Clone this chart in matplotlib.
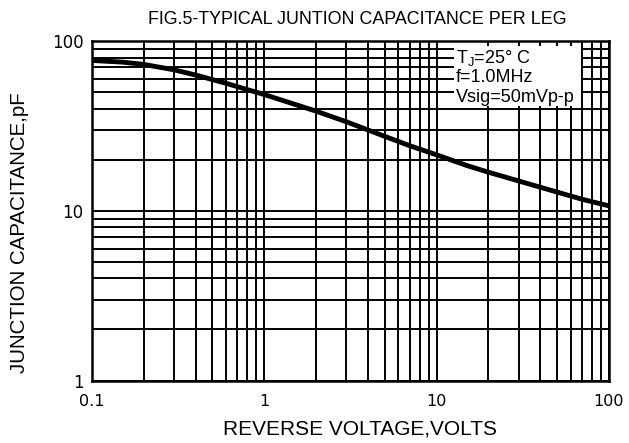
import matplotlib.pyplot as plt
from matplotlib.patches import Rectangle
from matplotlib.ticker import FixedLocator, NullFormatter

# curve
voltage = [0.1, 0.15, 0.2, 0.3, 0.4, 0.6, 0.8, 1, 1.5, 2, 3, 5, 7, 10, 15, 20, 30, 44, 70, 100]
capacitance = [77, 75.3, 73, 67.8, 63.2, 56.5, 51.8, 48.5, 42.5, 38.7, 33.5, 27.5, 24.2,
               21.4, 18.5, 16.9, 15, 13.4, 11.7, 10.7]

x_ticks = [0.1, 1, 10, 100]
x_labels = ["0.1", "1", "10", "100"]
y_ticks = [1, 10, 100]
y_labels = ["1", "10", "100"]

notes = ["T$_\\mathregular{J}$=25° C", "f=1.0MHz", "Vsig=50mVp-p"]

plt.rcParams["font.family"] = ["Liberation Sans", "DejaVu Sans"]

fig = plt.figure(figsize=(6.29, 4.43), dpi=100)
ax = fig.add_axes([0.146, 0.141, 0.822, 0.766])

ax.set_xscale("log")
ax.set_yscale("log")
ax.set_xlim(0.1, 100)
ax.set_ylim(1, 100)

minor_x = [m * 10.0 ** e for e in (-1, 0, 1) for m in range(2, 10)]
minor_y = [m * 10.0 ** e for e in (0, 1) for m in range(2, 10)]
ax.xaxis.set_major_locator(FixedLocator(x_ticks))
ax.yaxis.set_major_locator(FixedLocator(y_ticks))
ax.xaxis.set_minor_locator(FixedLocator(minor_x))
ax.yaxis.set_minor_locator(FixedLocator(minor_y))
ax.xaxis.set_minor_formatter(NullFormatter())
ax.yaxis.set_minor_formatter(NullFormatter())
ax.set_xticklabels(x_labels, family="DejaVu Sans", fontsize=11.5)
ax.set_yticklabels(y_labels, family="DejaVu Sans", fontsize=12)
ax.tick_params(axis="x", which="both", length=0, pad=10)
ax.tick_params(axis="y", which="both", length=0, pad=6)

ax.grid(which="both", color="black", linewidth=1.4)
for s in ax.spines.values():
    s.set_linewidth(1.8)

ax.plot(voltage, capacitance, color="black", linewidth=3.5, zorder=4,
        solid_capstyle="butt")

# white panel for the test conditions
ax.add_patch(Rectangle((12.6, 41.5), 68.7 - 12.6, 93.4 - 41.5,
                       facecolor="white", edgecolor="none", zorder=3))
for txt, yv in zip(notes, [80, 61, 46.4]):
    ax.text(12.9, yv, txt, fontsize=13, va="center", ha="left", zorder=5)

fig.text(0.568, 0.957, "FIG.5-TYPICAL JUNTION CAPACITANCE PER LEG",
         ha="center", va="center", fontsize=12.9)
fig.text(0.573, 0.032, "REVERSE VOLTAGE,VOLTS", ha="center", va="center",
         fontsize=15)
fig.text(0.031, 0.476, "JUNCTION CAPACITANCE,pF", ha="center", va="center",
         rotation=90, fontsize=14.8)

fig.savefig("out.png", dpi=100)
